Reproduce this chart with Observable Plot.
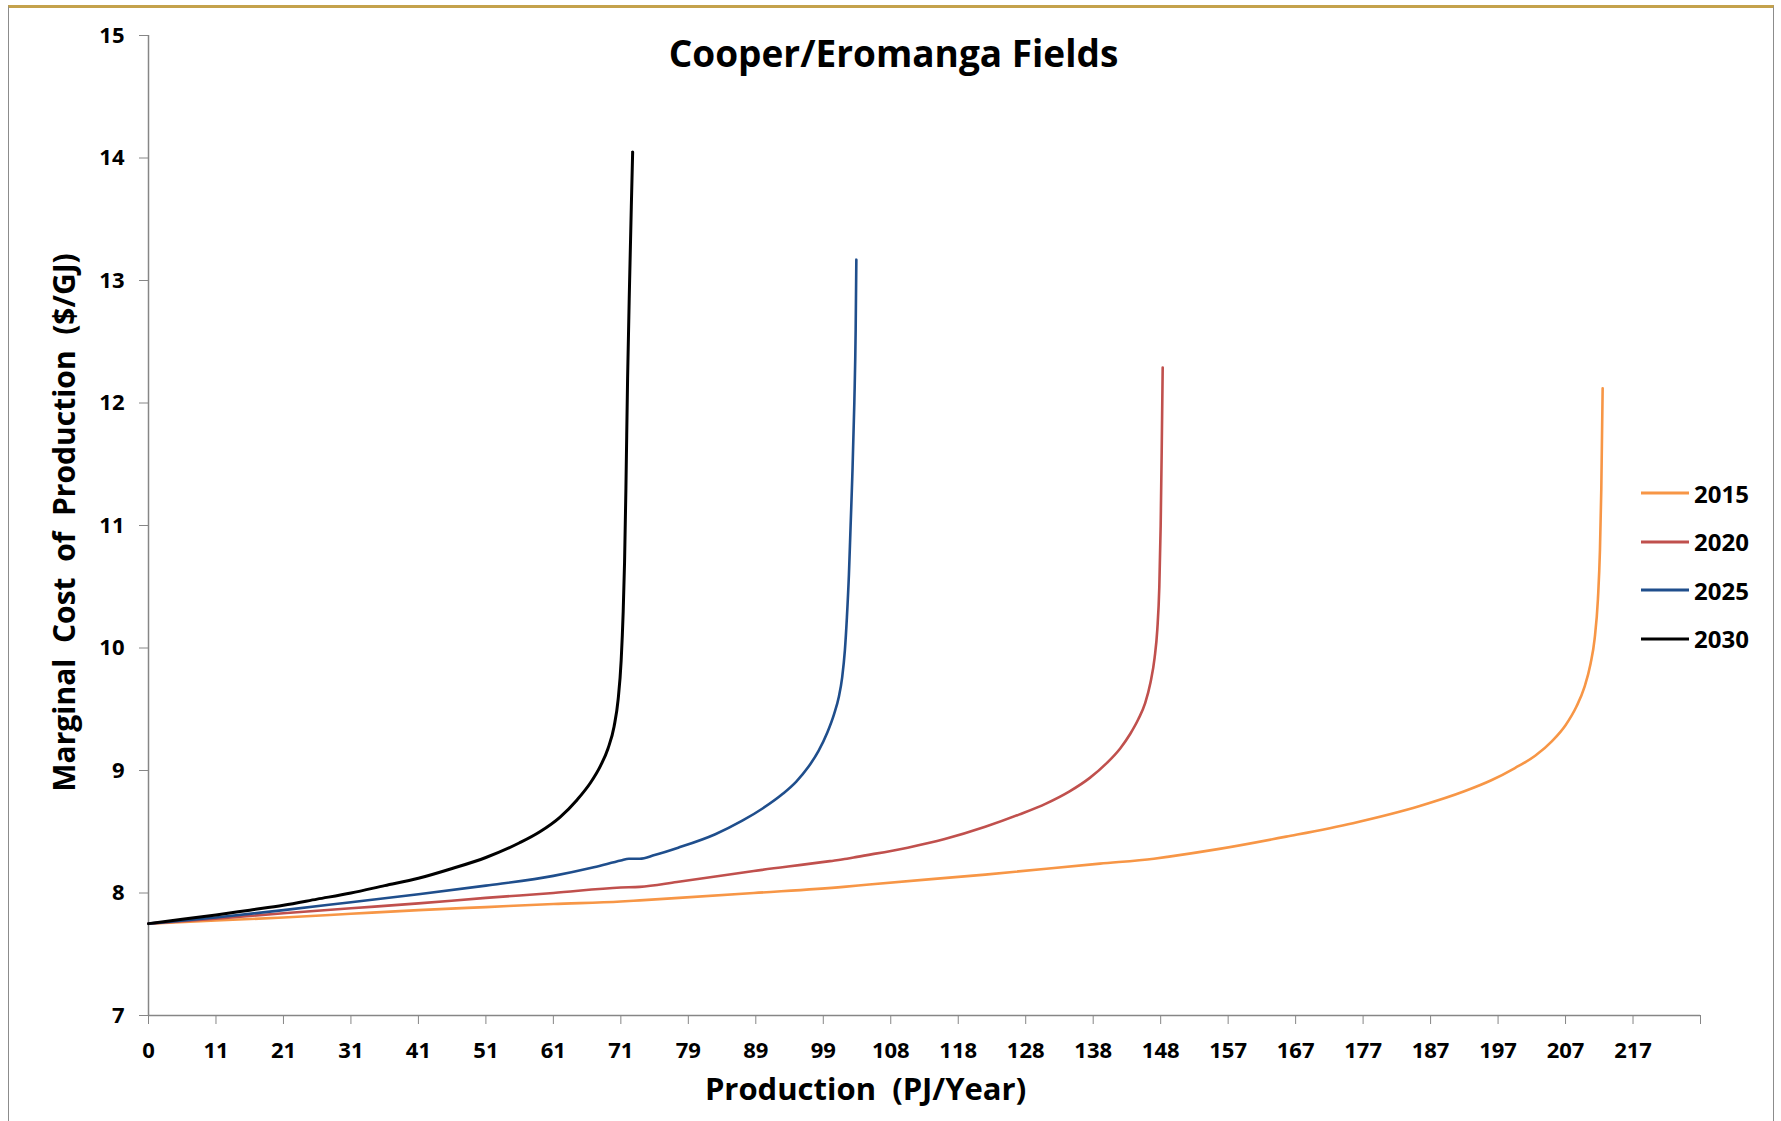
<!DOCTYPE html>
<html>
<head>
<meta charset="utf-8">
<script src="https://cdn.jsdelivr.net/npm/d3@7"></script>
<script src="https://cdn.jsdelivr.net/npm/@observablehq/plot@0.6"></script>
<style>
html, body { margin: 0; padding: 0; background: #fff; }
#wrap { position: relative; width: 1781px; height: 1121px; overflow: hidden; font-family: "Open Sans", sans-serif; }
#chart { position: absolute; left: 0; top: 0; }
#frame { position: absolute; left: 8px; top: 5px; width: 1764px; height: 1140px; border-top: 3px solid #C4A24C; border-left: 1px solid #8c8c8c; border-right: 1px solid #8c8c8c; pointer-events: none; }
#legend { position: absolute; left: 1641px; top: 469px; }
.lg { display: flex; align-items: center; height: 48.5px; font-weight: bold; font-size: 24px; color: #000; }
.lg svg { margin-right: 5px; }
</style>
</head>
<body>
<div id="wrap">
  <div id="chart"></div>
  <div id="legend"></div>
  <div id="frame"></div>
</div>
<script>
// ---- data (x = category position along the Excel category axis, y = $/GJ) ----
const categoryTickLabels = ["0","11","21","31","41","51","61","71","79","89","99","108","118","128","138","148","157","167","177","187","197","207","217"];
const yTickValues = [7, 8, 9, 10, 11, 12, 13, 14, 15];
const seriesNames = ["2015", "2020", "2025", "2030"];
const seriesColors = ["#F79646", "#C0504D", "#1F4E8C", "#000000"];

const s2015 = [[0,7.75],[10,7.775],[20,7.80],[30,7.83],[40,7.86],[50,7.885],[60,7.91],[70,7.93],[72.8,7.94],[89.7,8.00],[103,8.05],[106.8,8.07],[124,8.15],[141,8.24],[149,8.28],[151,8.295],[158.7,8.36],[168.6,8.46],[178.5,8.57],[188.4,8.71],[195,8.83],[199,8.92],[202.5,9.02],[205.5,9.12],[208,9.24],[210,9.37],[211.6,9.52],[212.8,9.68],[213.7,9.87],[214.3,10.07],[214.8,10.4],[215.1,10.8],[215.3,11.3],[215.5,12.12]];
const s2020 = [[0,7.75],[10,7.79],[20,7.835],[30,7.875],[40,7.915],[50,7.96],[60,8.00],[70,8.045],[72.8,8.05],[78.3,8.09],[89.7,8.18],[101,8.26],[103.5,8.28],[105,8.295],[112.5,8.37],[118,8.44],[124,8.54],[129,8.64],[133,8.73],[136.5,8.83],[139.5,8.94],[142,9.06],[144,9.18],[145.5,9.30],[146.7,9.42],[147.7,9.55],[148.5,9.72],[149.1,9.92],[149.5,10.15],[149.8,10.5],[150.0,11.0],[150.15,11.6],[150.3,12.29]];
const s2025 = [[0,7.75],[10,7.80],[20,7.86],[30,7.925],[40,7.99],[50,8.06],[60,8.14],[66,8.21],[70,8.265],[71.2,8.28],[72.8,8.28],[75,8.31],[78.5,8.37],[84,8.48],[88,8.59],[91,8.69],[94,8.81],[96,8.91],[97.8,9.03],[99.3,9.16],[100.6,9.31],[101.6,9.46],[102.3,9.60],[102.8,9.76],[103.2,9.98],[103.5,10.25],[103.8,10.6],[104.05,11.0],[104.3,11.4],[104.6,12.0],[104.8,12.6],[104.9,13.17]];
const s2030 = [[0,7.75],[5,7.785],[10,7.82],[15,7.86],[20,7.90],[25,7.95],[30,8.00],[35,8.06],[40,8.12],[45,8.20],[50,8.29],[55,8.41],[58,8.50],[61,8.62],[63.5,8.76],[65.5,8.90],[67,9.04],[68.1,9.18],[69,9.36],[69.6,9.58],[70.05,9.90],[70.35,10.3],[70.55,10.7],[70.75,11.3],[71.0,12.2],[71.3,13.0],[71.55,13.6],[71.75,14.05]];

const seriesData = [s2015, s2020, s2025, s2030];
const rows = seriesData.flatMap((s, k) => s.map(([x, y]) => ({series: seriesNames[k], x, y})));

const axisGray = "#868686";
const font = "'Open Sans', sans-serif";

const chart = Plot.plot({
  width: 1781,
  height: 1121,
  marginLeft: 148,
  marginRight: 81,
  marginTop: 35,
  marginBottom: 106,
  style: {fontFamily: font, fontWeight: "bold", background: "transparent"},
  x: {domain: [0, 230], label: null},
  y: {domain: [7, 15], label: null},
  color: {domain: seriesNames, range: seriesColors},
  marks: [
    Plot.axisX({
      ticks: d3.range(0, 231, 10),
      tickFormat: d => categoryTickLabels[Math.round(d / 10)] ?? "",
      tickSize: 9, tickPadding: 18, fontSize: 22, stroke: axisGray, fill: "#000", label: null
    }),
    Plot.axisY({
      ticks: yTickValues, tickSize: 9, tickPadding: 15, fontSize: 22, stroke: axisGray, fill: "#000", label: null
    }),
    Plot.ruleY([7], {stroke: axisGray, strokeWidth: 1.5}),
    Plot.ruleX([0], {stroke: axisGray, strokeWidth: 1.5}),
    Plot.line(rows, {x: "x", y: "y", z: "series", stroke: "series", strokeWidth: d => d.series === "2030" ? 3 : 2.6, curve: "monotone-x"}),
    Plot.text(["Cooper/Eromanga Fields"], {frameAnchor: "top", text: d => d, dx: -31, dy: 5, fontSize: 37, fontWeight: "bold", fill: "#000"}),
    Plot.text(["Production  (PJ/Year)"], {frameAnchor: "bottom", text: d => d, dx: -59, dy: 84, fontSize: 31, fontWeight: "bold", fill: "#000"}),
    Plot.text(["Marginal  Cost  of  Production  ($/GJ)"], {frameAnchor: "left", textAnchor: "middle", text: d => d, rotate: -90, dx: -83, dy: -3, fontSize: 30, fontWeight: "bold", fill: "#000"})
  ]
});
document.getElementById("chart").appendChild(chart);

// legend
const legend = document.getElementById("legend");
seriesNames.forEach((name, i) => {
  const row = document.createElement("div");
  row.className = "lg";
  row.innerHTML = `<svg width="48" height="6"><line x1="0" y1="3" x2="48" y2="3" stroke="${seriesColors[i]}" stroke-width="3"/></svg><span>${name}</span>`;
  legend.appendChild(row);
});
</script>
</body>
</html>
